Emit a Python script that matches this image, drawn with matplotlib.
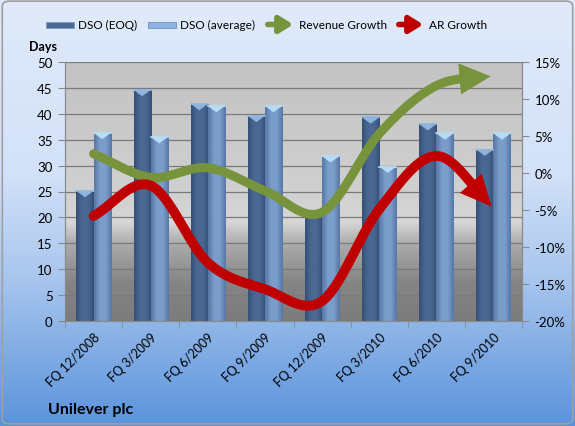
import numpy as np
import matplotlib
matplotlib.use('Agg')
import matplotlib.pyplot as plt
from matplotlib.patches import FancyBboxPatch, FancyArrowPatch, Rectangle, Polygon
from matplotlib.colors import LinearSegmentedColormap

plt.rcParams['font.family'] = ['Lato', 'DejaVu Sans']

# Data
quarters = ['FQ 12/2008', 'FQ 3/2009', 'FQ 6/2009', 'FQ 9/2009',
            'FQ 12/2009', 'FQ 3/2010', 'FQ 6/2010', 'FQ 9/2010']
dso_eoq = [25.1, 44.6, 41.9, 39.6, 21.0, 39.3, 38.0, 33.1]
dso_avg = [36.3, 35.5, 41.5, 41.5, 31.8, 29.8, 36.2, 36.2]
revenue_growth = [2.6, -0.6, 0.7, -2.4, -5.3, 5.3, 11.8, 13.1]
ar_growth = [-5.8, -1.7, -12.1, -15.7, -17.3, -4.9, 2.3, -4.8]

W, H = 575, 427
fig = plt.figure(figsize=(W / 100, H / 100), dpi=100)

# Figure background: light blue fading to a deeper blue at the bottom
bg = fig.add_axes([0, 0, 1, 1], zorder=-10)
bg_cmap = LinearSegmentedColormap.from_list(
    'bg', [(0, '#5b93db'), (0.35, '#a9c6ee'), (0.6, '#d3e2f8'), (1, '#e0eafa')])
bg.imshow(np.linspace(0, 1, 256).reshape(-1, 1), origin='lower', cmap=bg_cmap,
          aspect='auto', extent=(0, 1, 0, 1))
bg.set_xlim(0, 1)
bg.set_ylim(0, 1)
bg.axis('off')
bg.add_patch(FancyBboxPatch((0.004, 0.005), 0.992, 0.99,
                            boxstyle='round,pad=0,rounding_size=0.012',
                            fc='none', ec='#a0a0a0', lw=1.2,
                            transform=bg.transAxes))

left, right, top, bottom = 65, 522, 63, 322
ax = fig.add_axes([left / W, 1 - bottom / H, (right - left) / W, (bottom - top) / H])
ax2 = ax.twinx()

n = len(quarters)
x = np.arange(n)

# Plot area gradient (dark at the bottom, light band in the middle)
pa_cmap = LinearSegmentedColormap.from_list(
    'pa', [(0, '#7c7c7c'), (0.15, '#858585'), (0.3, '#acacac'),
           (0.38, '#d6d6d6'), (0.5, '#d0d0d0'), (1, '#c3c3c3')])
ax.imshow(np.linspace(0, 1, 256).reshape(-1, 1), origin='lower', cmap=pa_cmap,
          aspect='auto', extent=(-0.5, n - 0.5, 0, 50), zorder=0)

ax.set_xlim(-0.5, n - 0.5)
ax.set_ylim(0, 50)
ax.set_yticks(np.arange(0, 51, 5))
ax.set_axisbelow(True)
ax.yaxis.grid(True, color='#7a7a7a', lw=0.9)


def draw_bars(xs, vals, edge_col, mid_col, cap_col, width):
    cmap = LinearSegmentedColormap.from_list('b', [edge_col, mid_col, mid_col, edge_col])
    grad = np.linspace(0, 1, 64).reshape(1, -1)
    for xc, v in zip(xs, vals):
        rect = Rectangle((xc - width / 2, 0), width, v, fc=mid_col, ec='none', zorder=2)
        ax.add_patch(rect)
        im = ax.imshow(grad, cmap=cmap, aspect='auto',
                       extent=(xc - width / 2, xc + width / 2, 0, v), zorder=2.1)
        im.set_clip_path(rect)
        # light cap at the top of each bar
        cap = Polygon([(xc - width / 2, v), (xc + width / 2, v), (xc, v - 1.2)],
                      closed=True, fc=cap_col, ec='none', zorder=2.2)
        ax.add_patch(cap)
        ax.plot([xc - width / 2, xc + width / 2], [v, v], color=cap_col, lw=1.2, zorder=2.3)


bw = 0.3
draw_bars(x - 0.15, dso_eoq, '#354f76', '#4a6893', '#8fb4e0', bw)
draw_bars(x + 0.15, dso_avg, '#5776a4', '#7a9dcb', '#b8dcf4', bw)

# Axes styling
ax.spines['top'].set_visible(False)
ax2.spines['top'].set_visible(False)
for a in (ax, ax2):
    for sp in ['left', 'right', 'bottom']:
        a.spines[sp].set_color('#8a8a8a')
ax.set_xticks(x)
ax.set_xticklabels(quarters, rotation=45, ha='right', rotation_mode='anchor', fontsize=9)
ax.set_xticks(np.arange(-0.5, n, 1), minor=True)
ax.tick_params(axis='x', which='major', length=0, pad=7)
ax.tick_params(axis='x', which='minor', length=5, color='#8a8a8a')
ax.tick_params(axis='y', length=5, color='#8a8a8a', labelsize=9.5, pad=4)

ax2.set_ylim(-20, 15)
ax2.set_yticks(np.arange(-20, 16, 5))
ax2.set_yticklabels([f'{v}%' for v in range(-20, 16, 5)])
ax2.tick_params(axis='y', length=5, color='#8a8a8a', labelsize=9.5, pad=4)


def smooth(xs, ys, steps=30):
    # Catmull-Rom curve through the data points
    px = np.concatenate([[2 * xs[0] - xs[1]], xs, [2 * xs[-1] - xs[-2]]])
    py = np.concatenate([[2 * ys[0] - ys[1]], ys, [2 * ys[-1] - ys[-2]]])
    out_x, out_y = [], []
    for i in range(1, len(px) - 2):
        t = np.linspace(0, 1, steps, endpoint=False)
        for arr, res in ((px, out_x), (py, out_y)):
            p0, p1, p2, p3 = arr[i - 1], arr[i], arr[i + 1], arr[i + 2]
            res.extend(0.5 * ((2 * p1) + (-p0 + p2) * t
                              + (2 * p0 - 5 * p1 + 4 * p2 - p3) * t ** 2
                              + (-p0 + 3 * p1 - 3 * p2 + p3) * t ** 3))
    out_x.append(xs[-1])
    out_y.append(ys[-1])
    return np.array(out_x), np.array(out_y)


def arrow_line(vals, color, lw, head_len, head_w):
    cx, cy = smooth(x.astype(float), np.array(vals, dtype=float))
    disp = ax2.transData.transform(np.column_stack([cx, cy]))
    d = np.cumsum(np.hypot(*np.diff(disp[::-1], axis=0).T))
    k = len(cx) - 1 - (np.searchsorted(d, head_len * 0.85) + 1)
    ax2.plot(cx[:k + 2], cy[:k + 2], color=color, lw=lw, solid_capstyle='round', zorder=5)
    arr = FancyArrowPatch((cx[k], cy[k]), (cx[-1], cy[-1]),
                          arrowstyle=f'-|>,head_length={head_len * 0.72},head_width={head_w * 0.36}',
                          mutation_scale=1, fc=color, ec=color, lw=0.5, zorder=6)
    ax2.add_patch(arr)


arrow_line(revenue_growth, '#77933c', 6.5, 30, 30)
arrow_line(ar_growth, '#c00000', 7, 30, 28)

# Legend drawn by hand at the top
ly = 1 - 25.5 / H


def fx(px):
    return px / W


fig.patches.append(Rectangle((fx(46), ly - 3 / H), 28 / W, 6 / H, transform=fig.transFigure,
                             fc='#4c6a96', ec='#7f9bc2', lw=0.6))
fig.text(fx(78), ly, 'DSO (EOQ)', fontsize=8.5, va='center')
fig.patches.append(Rectangle((fx(148), ly - 3 / H), 28 / W, 6 / H, transform=fig.transFigure,
                             fc='#8eb3e0', ec='#6f8fbc', lw=0.6))
fig.text(fx(180), ly, 'DSO (average)', fontsize=8.5, va='center')
fig.patches.append(FancyArrowPatch((fx(265), ly), (fx(296), ly), transform=fig.transFigure,
                                   arrowstyle='-|>,head_length=8,head_width=5', mutation_scale=1,
                                   color='#77933c', lw=4))
fig.text(fx(299), ly, 'Revenue Growth', fontsize=8.5, va='center')
fig.patches.append(FancyArrowPatch((fx(396), ly), (fx(426), ly), transform=fig.transFigure,
                                   arrowstyle='-|>,head_length=8,head_width=5', mutation_scale=1,
                                   color='#c00000', lw=4))
fig.text(fx(429), ly, 'AR Growth', fontsize=8.5, va='center')

fig.text(fx(29), 1 - 47 / H, 'Days', fontsize=9, fontweight='bold', va='center')
fig.text(fx(48), 1 - 410 / H, 'Unilever plc', fontsize=11.5, fontweight='bold', va='center')

fig.savefig('out.png', dpi=100)
